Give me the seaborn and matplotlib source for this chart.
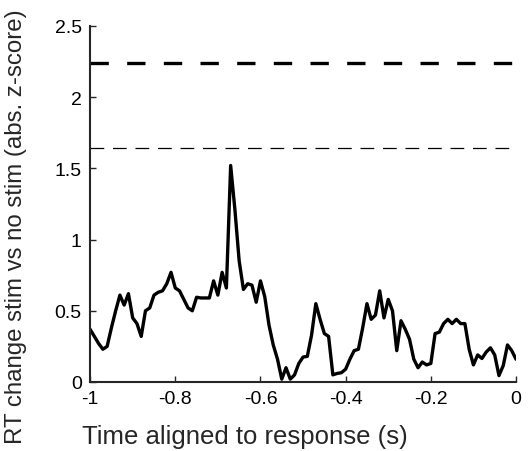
import numpy as np
import pandas as pd
import matplotlib
matplotlib.use("Agg")
import matplotlib.pyplot as plt
import seaborn as sns

time_s = [round(-1 + 0.01 * k, 2) for k in range(101)]
z_abs = [0.37, 0.32, 0.27, 0.23, 0.25, 0.38, 0.50, 0.61, 0.54, 0.62,
         0.45, 0.41, 0.32, 0.50, 0.52, 0.61, 0.63, 0.64, 0.69, 0.77,
         0.66, 0.64, 0.58, 0.52, 0.50, 0.595, 0.59, 0.59, 0.59, 0.71,
         0.61, 0.77, 0.66, 1.52, 1.21, 0.85, 0.65, 0.69, 0.68, 0.56,
         0.71, 0.60, 0.40, 0.26, 0.16, 0.02, 0.10, 0.02, 0.05, 0.13,
         0.175, 0.18, 0.33, 0.55, 0.44, 0.34, 0.32, 0.05, 0.06, 0.065,
         0.09, 0.16, 0.22, 0.23, 0.38, 0.55, 0.44, 0.47, 0.64, 0.45,
         0.58, 0.50, 0.22, 0.43, 0.37, 0.30, 0.16, 0.10, 0.14, 0.12,
         0.13, 0.34, 0.35, 0.41, 0.44, 0.41, 0.44, 0.41, 0.41, 0.23,
         0.12, 0.19, 0.165, 0.21, 0.24, 0.19, 0.045, 0.115, 0.26, 0.22,
         0.16]
thresh_strict = 2.24
thresh_loose = 1.645

xticks = [-1, -0.8, -0.6, -0.4, -0.2, 0]
xtick_labels = ["-1", "-0.8", "-0.6", "-0.4", "-0.2", "0"]
yticks = [0, 0.5, 1, 1.5, 2, 2.5]
ytick_labels = ["0", "0.5", "1", "1.5", "2", "2.5"]

sns.set_style("ticks")
plt.rcParams['font.family'] = ['Liberation Sans', 'DejaVu Sans']

df = pd.DataFrame({"t": time_s, "z": z_abs})

fig = plt.figure(figsize=(5.30, 4.52), dpi=100)
ax = fig.add_axes([0.17, 0.1527, 0.8036, 0.7876])

sns.lineplot(data=df, x="t", y="z", ax=ax, color="black", linewidth=2.4)
ax.axhline(thresh_strict, color="black", linewidth=2.4, linestyle=(0, (5.5, 5.5)))
ax.axhline(thresh_loose, color="black", linewidth=0.9, linestyle=(0, (11, 7)))

ax.set_xlim(-1, 0)
ax.set_ylim(0, 2.5)
ax.set_xticks(xticks)
ax.set_xticklabels(xtick_labels)
ax.set_yticks(yticks)
ax.set_yticklabels(ytick_labels)
ax.tick_params(direction="in", length=4, width=1, labelsize=14, colors="#262626",
               labelcolor="black", pad=6)
ax.set_xlabel("Time aligned to response (s)", fontsize=18.5, va="center", ha="center")
ax.xaxis.set_label_coords(0.364, -0.152)
ax.set_ylabel("RT change stim vs no stim (abs. z-score)", fontsize=17.3,
              va="center", ha="center")
ax.yaxis.set_label_coords(-0.174, 0.438)
for s in ["top", "right"]:
    ax.spines[s].set_visible(False)
for s in ["left", "bottom"]:
    ax.spines[s].set_linewidth(1.5)
    ax.spines[s].set_color("#262626")

fig.savefig("out.png", dpi=100)
